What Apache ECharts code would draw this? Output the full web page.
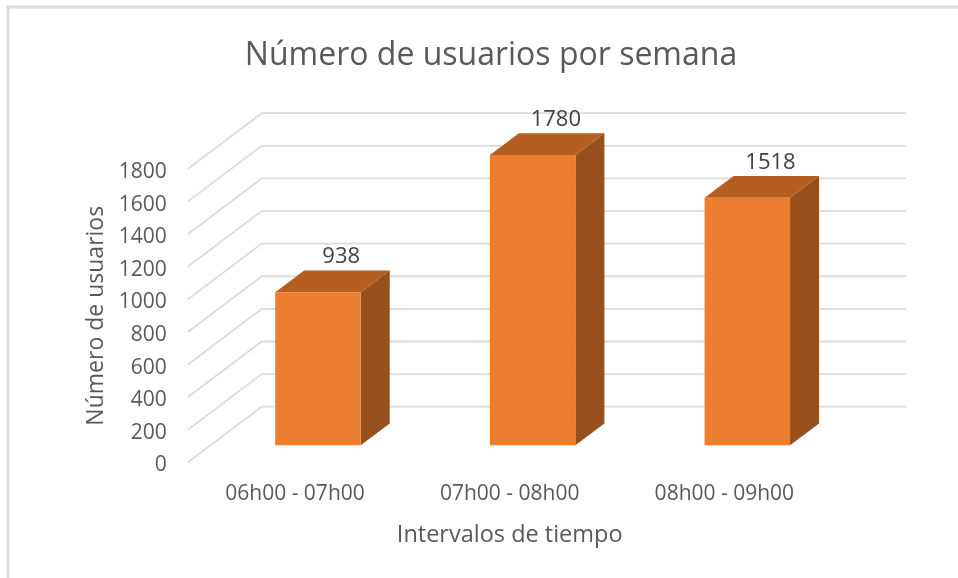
<!DOCTYPE html>
<html>
<head>
<meta charset="utf-8">
<style>html,body{margin:0;padding:0;background:#fff}#c{width:958px;height:578px}</style>
<script src="https://cdn.jsdelivr.net/npm/echarts@6/dist/echarts.min.js"></script>
</head>
<body>
<div id="c"></div>
<script>
const categories = ['06h00 - 07h00', '07h00 - 08h00', '08h00 - 09h00'];
const usuarios = [938, 1780, 1518];
const valueTicks = [0, 200, 400, 600, 800, 1000, 1200, 1400, 1600, 1800];
const titleText = 'Número de usuarios por semana';
const yName = 'Número de usuarios';
const xName = 'Intervalos de tiempo';

const FONT = '"Open Sans", "Noto Sans", sans-serif';
const WALL_DX = 74, WALL_DY = -55.8;      // floor depth of the chart box
const BAR_START = 0.31;                   // where the bar sits inside that depth
const BAR_W = 85.5, BAR_DX = 29, BAR_DY = -21.7;

const chart = echarts.init(document.getElementById('c'), null, {renderer: 'canvas'});

function renderWall(params, api) {
  const cs = params.coordSys;
  const y = api.coord([0, api.value(1)])[1];
  const x0 = cs.x, x1 = cs.x + WALL_DX, x2 = cs.x + cs.width + WALL_DX;
  return {
    type: 'polyline', silent: true,
    shape: {points: [[x0, y], [x1, y + WALL_DY], [x2, y + WALL_DY]]},
    style: {fill: null, stroke: '#dcdcdc', lineWidth: 1.8}
  };
}

function renderBar(params, api) {
  const idx = api.value(0), v = api.value(1);
  const top = api.coord([idx, v]);
  const base = api.coord([idx, 0]);
  const ox = WALL_DX * BAR_START, oy = WALL_DY * BAR_START;
  const l = top[0] + ox - BAR_W / 2, r = l + BAR_W;
  const t = top[1] + oy, b = base[1] + oy;
  return {
    type: 'group',
    children: [
      {type: 'polygon', shape: {points: [[r, t], [r + BAR_DX, t + BAR_DY], [r + BAR_DX, b + BAR_DY], [r, b]]},
        style: {fill: '#97501c'}},
      {type: 'polygon', shape: {points: [[l, t], [l + BAR_DX, t + BAR_DY], [r + BAR_DX, t + BAR_DY], [r, t]]},
        style: {fill: '#b45f21'}},
      {type: 'rect', shape: {x: l, y: t, width: BAR_W, height: b - t},
        style: {fill: '#ed7d31'}},
      {type: 'text', style: {
        text: String(v), x: (l + r) / 2 + BAR_DX * 0.8, y: t + BAR_DY - 13.5,
        align: 'center', verticalAlign: 'middle',
        font: '22px ' + FONT, fill: '#404040'}}
    ]
  };
}

chart.setOption({
  animation: false,
  backgroundColor: '#ffffff',
  title: {
    text: titleText, left: 486, top: 51, textAlign: 'center', textVerticalAlign: 'middle',
    textStyle: {fontFamily: FONT, fontSize: 32, fontWeight: 'normal', color: '#595959'}
  },
  grid: {left: 187.7, right: 126.3, top: 169, bottom: 115.5, containLabel: false},
  xAxis: {
    type: 'category', data: categories,
    name: xName, nameLocation: 'middle', nameGap: 61,
    nameTextStyle: {fontFamily: FONT, fontSize: 23.5, color: '#595959'},
    axisLine: {show: false}, axisTick: {show: false},
    axisLabel: {fontFamily: FONT, fontSize: 21, color: '#595959', margin: 21}
  },
  yAxis: {
    type: 'value', min: 0, max: 1800, interval: 200,
    name: yName, nameLocation: 'middle', nameGap: 80, nameRotate: 90,
    nameTextStyle: {fontFamily: FONT, fontSize: 23, color: '#595959'},
    axisLine: {show: false}, axisTick: {show: false}, splitLine: {show: false},
    axisLabel: {color: '#595959', margin: 21,
      formatter: v => valueTicks.includes(v) ? '{t|' + v + '}' : '',
      rich: {t: {fontFamily: FONT, fontSize: 21, color: '#595959', padding: [6, 0, 0, 0]}}}
  },
  graphic: [
    {type: 'line', silent: true, shape: {x1: 8, y1: 6, x2: 8, y2: 578}, style: {stroke: '#dcdcdc', lineWidth: 3}},
    {type: 'line', silent: true, shape: {x1: 7, y1: 7, x2: 958, y2: 7}, style: {stroke: '#dcdcdc', lineWidth: 3}}
  ],
  series: [
    {type: 'custom', name: 'grid', coordinateSystem: 'cartesian2d', clip: false, z: 1,
      renderItem: renderWall, encode: {x: 0, y: 1},
      data: valueTicks.map(t => [0, t])},
    {type: 'custom', name: 'Usuarios', coordinateSystem: 'cartesian2d', clip: false, z: 2,
      renderItem: renderBar, encode: {x: 0, y: 1},
      data: usuarios.map((v, i) => [i, v])}
  ]
});
</script>
</body>
</html>
